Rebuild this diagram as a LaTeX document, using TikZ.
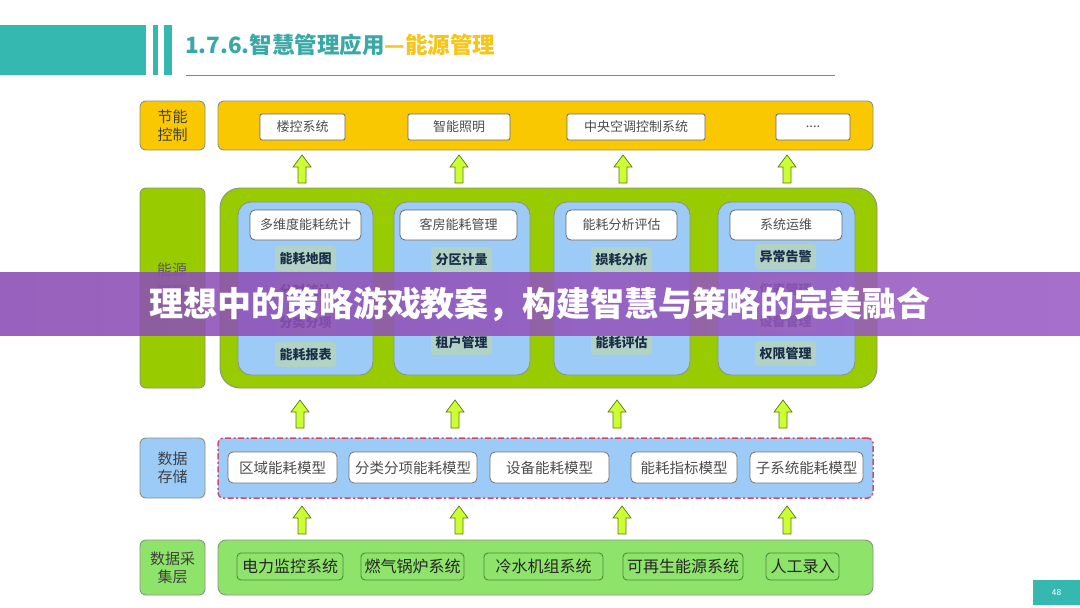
\documentclass[tikz,border=0pt]{standalone}
\usepackage{fontspec}
\newfontfamily\cjk{Noto Sans CJK SC}
\usetikzlibrary{calc}
\definecolor{teal1}{HTML}{35B8B0}
\definecolor{tealtxt}{HTML}{3AA9A6}
\definecolor{gold}{HTML}{F5C518}
\definecolor{yel}{HTML}{F9C800}
\definecolor{grn}{HTML}{99CC00}
\definecolor{blu}{HTML}{9CCBF7}
\definecolor{subfill}{HTML}{B3D2C6}
\definecolor{navy}{HTML}{1A2E48}
\definecolor{lgrn}{HTML}{8EE36A}
\definecolor{dgrn}{HTML}{4E8A3C}
\definecolor{bord}{HTML}{8A9480}
\definecolor{pinkd}{HTML}{D04A68}
\definecolor{arrf}{HTML}{CCFF33}
\definecolor{arrd}{HTML}{5A7A10}
\definecolor{banl}{HTML}{8A4CB4}
\definecolor{banr}{HTML}{9A5CC4}
\newcommand\bx[7]{\node[#2, minimum width={(#5-#3)*1pt}, minimum height={(#6-#4)*1pt}] (#1) at ({(#3+#5)/2},{(#4+#6)/2}) {#7};}
\tikzset{
  base/.style={inner sep=0pt, outer sep=0pt, font=\cjk, align=center},
  lab/.style={base, draw=bord, line width=0.9pt, rounded corners=6pt, font=\cjk\fontsize{15}{18}\selectfont, text=black!75},
  wbox/.style={base, draw=black!60, fill=white, line width=0.8pt, rounded corners=2pt, font=\cjk\fontsize{13}{15}\selectfont, text=black!70},
  hbox/.style={base, draw=black!60, fill=white, line width=0.8pt, rounded corners=5pt, font=\cjk\fontsize{13}{15}\selectfont, text=black!70},
  sub/.style={base, fill=subfill, rounded corners=3pt, font=\cjk\bfseries\fontsize{13}{15}\selectfont, text=navy},
  col/.style={base, draw=bord, fill=blu, line width=0.9pt, rounded corners=13pt},
  mbox/.style={base, draw=dgrn, fill=lgrn, line width=0.9pt, rounded corners=4pt, font=\cjk\fontsize{16}{18}\selectfont, text=black!85},
  sbox/.style={base, draw=black!55, fill=white, line width=0.8pt, rounded corners=5pt, font=\cjk\fontsize{14.5}{17}\selectfont, text=black!70},
  arrstyle/.style={fill=arrf, draw=arrd, line width=0.7pt, line join=miter},
  uparr/.pic={\draw[arrstyle] (-4,14) -- (-4,-2) -- (-9,-2) -- (0,-14) -- (9,-2) -- (4,-2) -- (4,14) -- cycle;}
}
\begin{document}
\begin{tikzpicture}[x=1pt,y=-1pt]
\useasboundingbox (0,0) rectangle (1080,608);
\fill[white] (0,0) rectangle (1080,608);
% title bar
\fill[teal1] (0,25) rectangle (146,75);
\fill[teal1] (153,25) rectangle (158,75);
\fill[teal1] (164,25) rectangle (172,75);
\node[base, anchor=west, font=\cjk\bfseries\fontsize{22.5}{24}\selectfont] (title) at (185,45)
  {\textcolor{tealtxt}{1.7.6.智慧管理应用}\textcolor{gold}{—能源管理}};
\draw[tealtxt, line width=1pt] (186,75) -- (835,75);
% row 1
\bx{l1}{lab, fill=yel}{140}{101}{205}{150}{节能\\控制}
\bx{r1}{base, draw=bord, fill=yel, line width=0.9pt, rounded corners=6pt}{218}{101}{873}{150}{}
\bx{a1}{wbox}{260}{114}{345}{140}{楼控系统}
\bx{a2}{wbox}{408}{114}{510}{140}{智能照明}
\bx{a3}{wbox}{567}{114}{705}{140}{中央空调控制系统}
\bx{a4}{wbox}{776}{114}{850}{140}{....}
% row 2
\bx{l2}{lab, fill=grn}{140}{188}{205}{388}{}
\node[base, font=\cjk\fontsize{15}{22}\selectfont, text=black!65] (l2t) at (172,281) {能源\\管理};
\bx{r2}{base, draw=bord, fill=grn, line width=0.9pt, rounded corners=20pt}{220}{188}{877}{388}{}
\bx{c1}{col}{238}{202}{373}{375}{}
\bx{c2}{col}{394}{202}{530}{375}{}
\bx{c3}{col}{554}{202}{690}{375}{}
\bx{c4}{col}{718}{202}{855}{375}{}
\bx{h1}{hbox}{250}{210}{361}{240}{多维度能耗统计}
\bx{h2}{hbox}{400}{210}{517}{240}{客房能耗管理}
\bx{h3}{hbox}{566}{210}{677}{240}{能耗分析评估}
\bx{h4}{hbox}{730}{210}{842}{240}{系统运维}
\bx{s11}{sub}{275}{246}{336}{271}{能耗地图}
\bx{s12}{sub}{275}{278}{336}{303}{分时统计}
\bx{s13}{sub}{275}{310}{336}{335}{分类分项}
\bx{s14}{sub}{275}{342}{336}{367}{能耗报表}
\bx{s21}{sub}{431}{247}{492}{272}{分区计量}
\bx{s23}{sub}{431}{330}{492}{355}{租户管理}
\bx{s31}{sub}{591}{247}{652}{272}{损耗分析}
\bx{s33}{sub}{591}{330}{652}{355}{能耗评估}
\bx{s41}{sub}{755}{244}{816}{269}{异常告警}
\bx{s42}{sub}{755}{277}{816}{302}{仪表管理}
\bx{s43}{sub}{755}{309}{816}{334}{设备管理}
\bx{s44}{sub}{755}{341}{816}{366}{权限管理}
% row 3
\bx{l3}{lab, fill=blu}{140}{438}{205}{498}{数据\\存储}
\bx{r3}{base, fill=blu, draw=pinkd, line width=1.5pt, dash pattern=on 6pt off 2.5pt on 2pt off 2.5pt, rounded corners=5pt}{218}{438}{873}{498}{}
\bx{d1}{sbox}{228}{452}{337}{483}{区域能耗模型}
\bx{d2}{sbox}{349}{452}{477}{483}{分类分项能耗模型}
\bx{d3}{sbox}{490}{452}{609}{483}{设备能耗模型}
\bx{d4}{sbox}{631}{452}{737}{483}{能耗指标模型}
\bx{d5}{sbox}{750}{452}{863}{483}{子系统能耗模型}
% row 4
\bx{l4}{lab, fill=lgrn}{140}{540}{205}{595}{数据采\\集层}
\bx{r4}{base, draw=bord, fill=lgrn, line width=0.9pt, rounded corners=8pt}{218}{540}{873}{595}{}
\bx{e1}{mbox}{237}{553}{343}{580}{电力监控系统}
\bx{e2}{mbox}{361}{553}{464}{580}{燃气锅炉系统}
\bx{e3}{mbox}{484}{553}{603}{580}{冷水机组系统}
\bx{e4}{mbox}{623}{553}{743}{580}{可再生能源系统}
\bx{e5}{mbox}{766}{553}{839}{580}{人工录入}
% arrows
\foreach \x in {302,459,623,787} \pic at (\x,169) {uparr};
\foreach \x in {300,455,617,783} \pic at (\x,414) {uparr};
\foreach \x in {302,459,622,787} \pic at (\x,520) {uparr};
% page number
\bx{pg}{base, fill=teal1, text=white, font=\sffamily\fontsize{9}{10}\selectfont}{1033}{580}{1080}{605}{48}
% banner
\shade[left color=banl, right color=banr, opacity=0.88] (0,272) rectangle (1080,335);
\node[base, text=white, font=\cjk\bfseries\fontsize{34}{36}\selectfont] (ban) at (540,304) {理想中的策略游戏教案，构建智慧与策略的完美融合};
\end{tikzpicture}
\end{document}
